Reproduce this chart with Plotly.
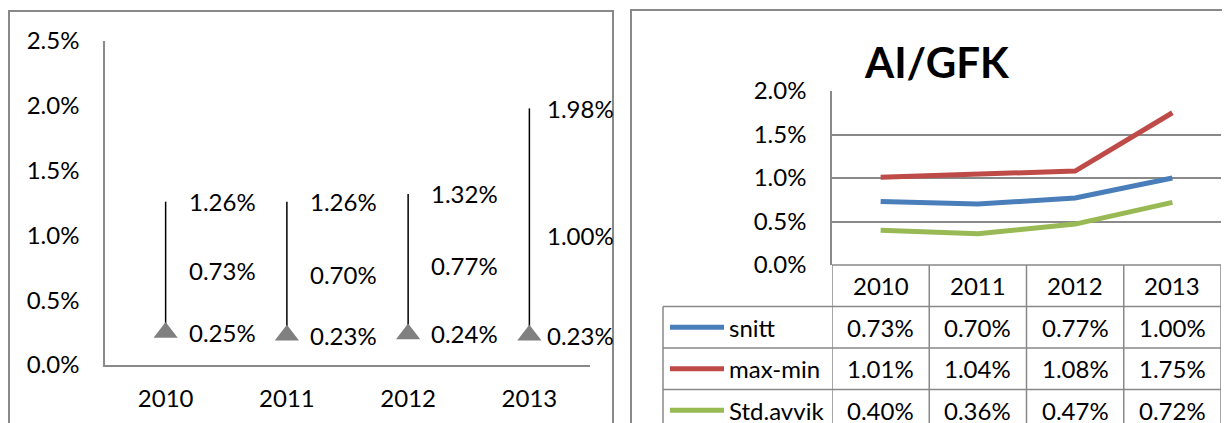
import plotly.graph_objects as go

# ---------------- data ----------------
years = ["2010", "2011", "2012", "2013"]
# left panel: high / mean / low (percent)
high_vals = [1.26, 1.26, 1.32, 1.98]
mean_vals = [0.73, 0.70, 0.77, 1.00]
low_vals = [0.25, 0.23, 0.24, 0.23]
# right panel series (percent)
series_names = ["snitt", "max-min", "Std.avvik"]
snitt = [0.73, 0.70, 0.77, 1.00]
maxmin = [1.01, 1.04, 1.08, 1.75]
stdavvik = [0.40, 0.36, 0.47, 0.72]
series_vals = [snitt, maxmin, stdavvik]
series_colors = ["#4A7EBB", "#BE4B48", "#98B954"]
left_ticks = [0, 0.5, 1.0, 1.5, 2.0, 2.5]
right_ticks = [0, 0.5, 1.0, 1.5, 2.0]
title_text = "AI/GFK"

# ---------------- layout helpers ----------------
W, H = 1230, 423
OFF = 8  # page body margin offset
FONT = "Lato, Carlito, sans-serif"
FS = 24
GRAY = "#898989"


def px(x):
    return (x - OFF) / W


def py(y):
    return 1 - (y - OFF) / H


fig = go.Figure()

# ---------------- left panel ----------------
xs, ys = [], []
for yr, lo, hi in zip(years, low_vals, high_vals):
    xs += [yr, yr, None]
    ys += [lo / 100, hi / 100, None]
fig.add_trace(go.Scatter(x=xs, y=ys, mode="lines", line=dict(color="black", width=1.5),
                         xaxis="x", yaxis="y", hoverinfo="skip"))
fig.add_trace(go.Scatter(x=years, y=[v / 100 for v in low_vals], mode="markers",
                         marker=dict(symbol="triangle-up", size=21, color="#808080"),
                         xaxis="x", yaxis="y", cliponaxis=False))

annotations = []
for i, yr in enumerate(years):
    shift = 21 if i < len(years) - 1 else 16
    for v in (high_vals[i], mean_vals[i], low_vals[i]):
        annotations.append(dict(x=i, y=v / 100, xref="x", yref="y", text=f"{v:.2f}%",
                                showarrow=False, xanchor="left", yanchor="middle", xshift=shift,
                                font=dict(family=FONT, size=FS, color="black")))

# ---------------- right panel ----------------
for name, vals, col in zip(series_names, series_vals, series_colors):
    fig.add_trace(go.Scatter(x=years, y=[v / 100 for v in vals], mode="lines", name=name,
                             line=dict(color=col, width=5), xaxis="x2", yaxis="y2",
                             cliponaxis=False))

# table geometry (pixels)
plot_left, plot_right, plot_bottom = 832, 1221, 265
row_h = 41.5
leg_left = 663
shapes = []
line_style = dict(color=GRAY, width=1.5)
# header top line
shapes.append(dict(type="line", xref="paper", yref="paper", x0=px(plot_left), x1=px(plot_right),
                   y0=py(plot_bottom), y1=py(plot_bottom), line=line_style))
# row lines
for r in range(1, 4):
    yy = py(plot_bottom + r * row_h)
    shapes.append(dict(type="line", xref="paper", yref="paper", x0=px(leg_left), x1=px(plot_right),
                       y0=yy, y1=yy, line=line_style))
# column lines
for c in range(len(years) + 1):
    shapes.append(dict(type="line", xref="x2", yref="paper", x0=c - 0.5, x1=c - 0.5,
                       y0=py(plot_bottom), y1=-0.1, line=line_style))
shapes.append(dict(type="line", xref="paper", yref="paper", x0=px(leg_left), x1=px(leg_left),
                   y0=py(plot_bottom + row_h), y1=-0.1, line=line_style))

# header years
for i, yr in enumerate(years):
    annotations.append(dict(x=i, y=py(plot_bottom + row_h / 2), xref="x2", yref="paper", text=yr,
                            showarrow=False, xanchor="center", yanchor="middle",
                            font=dict(family=FONT, size=FS, color="black")))
# rows
for r, (name, vals, col) in enumerate(zip(series_names, series_vals, series_colors)):
    yc = py(plot_bottom + row_h * (r + 1.5))
    shapes.append(dict(type="line", xref="paper", yref="paper", x0=px(670), x1=px(724), y0=yc, y1=yc,
                       line=dict(color=col, width=5)))
    annotations.append(dict(x=px(727), y=yc, xref="paper", yref="paper", text=name, showarrow=False,
                            xanchor="left", yanchor="middle",
                            font=dict(family=FONT, size=FS, color="black")))
    for i, v in enumerate(vals):
        annotations.append(dict(x=i, y=yc, xref="x2", yref="paper", text=f"{v:.2f}%", showarrow=False,
                                xanchor="center", yanchor="middle",
                                font=dict(family=FONT, size=FS, color="black")))

# title
annotations.append(dict(x=px(937), y=py(62), xref="paper", yref="paper", text=f"<b>{title_text}</b>",
                        showarrow=False, xanchor="center", yanchor="middle",
                        font=dict(family=FONT, size=42, color="black")))

# panel borders
shapes.append(dict(type="rect", xref="paper", yref="paper", x0=px(9), x1=px(613), y0=py(11), y1=-0.2,
                   line=dict(color=GRAY, width=2), layer="below"))
shapes.append(dict(type="rect", xref="paper", yref="paper", x0=px(631), x1=1.2, y0=py(10), y1=-0.2,
                   line=dict(color=GRAY, width=2), layer="below"))

tickfont = dict(family=FONT, size=FS, color="black")
fig.update_layout(
    width=W, height=H, margin=dict(l=0, r=0, t=0, b=0, pad=0, autoexpand=False),
    paper_bgcolor="white", plot_bgcolor="rgba(0,0,0,0)", showlegend=False,
    xaxis=dict(domain=[px(105), px(590)], anchor="y", type="category", range=[-0.5, 3.5],
               showline=True, linecolor=GRAY, linewidth=1.5, showgrid=False, ticks="",
               tickfont=tickfont, ticklabelstandoff=11, fixedrange=True, automargin=False),
    yaxis=dict(domain=[py(365), py(41)], anchor="x", range=[0, 0.025],
               tickvals=[t / 100 for t in left_ticks], tickformat=".1%",
               showline=True, linecolor=GRAY, linewidth=1.5, showgrid=False, zeroline=False,
               ticks="", tickfont=tickfont, ticklabelstandoff=19, automargin=False),
    xaxis2=dict(domain=[px(plot_left), px(plot_right)], anchor="y2", type="category",
                range=[-0.5, 3.5], showticklabels=False, showgrid=False, showline=False, ticks="",
                automargin=False),
    yaxis2=dict(domain=[py(plot_bottom), py(91)], anchor="x2", range=[0, 0.02],
                tickvals=[t / 100 for t in right_ticks], tickformat=".1%",
                showline=True, linecolor=GRAY, linewidth=1.5, showgrid=True, gridcolor=GRAY,
                gridwidth=1.5, zeroline=False, ticks="", tickfont=tickfont, ticklabelstandoff=19,
                automargin=False),
    shapes=shapes, annotations=annotations,
)

fig.write_html("out.html")
